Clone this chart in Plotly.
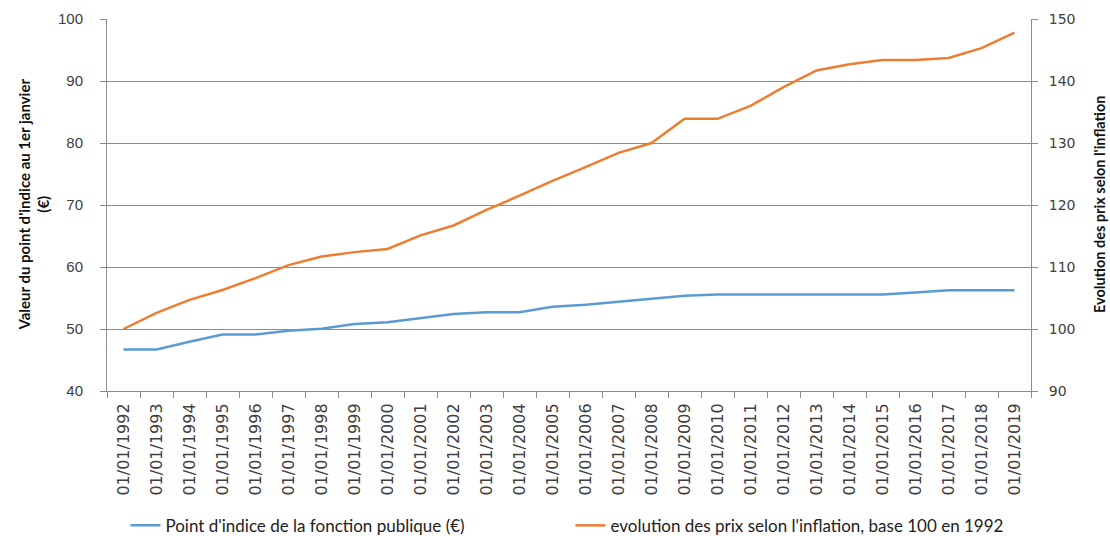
import plotly.graph_objects as go

# Années (1er janvier de chaque année)
years = list(range(1992, 2020))
dates = [f"01/01/{y}" for y in years]

# Valeur du point d'indice de la fonction publique au 1er janvier (€)
point_indice = [46.7, 46.7, 47.95, 49.1, 49.1, 49.7, 50.05, 50.8, 51.1, 51.7,
                52.4, 52.7, 52.7, 53.6, 53.9, 54.4, 54.9, 55.35, 55.56, 55.56,
                55.56, 55.56, 55.56, 55.56, 55.9, 56.23, 56.23, 56.23]

# Évolution des prix selon l'inflation, base 100 en 1992
prix_inflation = [100.0, 102.6, 104.7, 106.3, 108.2, 110.3, 111.7, 112.4, 112.9, 115.1,
                  116.7, 119.2, 121.5, 123.9, 126.1, 128.4, 130.0, 133.9, 133.9, 136.0,
                  139.0, 141.7, 142.7, 143.4, 143.4, 143.7, 145.3, 147.8]

left_ticks = [40, 50, 60, 70, 80, 90, 100]
right_ticks = [90, 100, 110, 120, 130, 140, 150]

BLUE = "#5B9BD5"
ORANGE = "#ED7D31"
GRID = "#8c8c8c"
TXT = "#404040"

fig = go.Figure()
fig.add_trace(go.Scatter(
    x=dates, y=point_indice, mode="lines", yaxis="y",
    name="Point d'indice de la fonction publique (€)",
    line=dict(color=BLUE, width=2.5),
))
fig.add_trace(go.Scatter(
    x=dates, y=prix_inflation, mode="lines", yaxis="y2",
    name="evolution des prix selon l'inflation, base 100 en 1992",
    line=dict(color=ORANGE, width=2.5),
))

fig.update_layout(
    width=1110, height=536,
    margin=dict(l=107, r=79, t=19, b=145),
    paper_bgcolor="white", plot_bgcolor="white",
    showlegend=True,
    legend=dict(
        orientation="h",
        xref="container", x=0.113, xanchor="left",
        yref="container", y=0.019, yanchor="middle",
        font=dict(family="Lato, 'Liberation Sans', sans-serif", size=17, color="#222"),
        entrywidth=400, entrywidthmode="pixels",
        bgcolor="rgba(0,0,0,0)",
    ),
    xaxis=dict(
        type="category", tickangle=-90, automargin=False,
        tickfont=dict(family="'DejaVu Sans', Verdana, sans-serif", size=16, color=TXT),
        showgrid=False, showline=True, linecolor=GRID, linewidth=1,
        ticks="outside", ticklen=6, tickcolor=GRID, tickson="boundaries",
        ticklabelstandoff=5,
        range=[-0.5, len(dates) - 0.5],
    ),
    yaxis=dict(
        range=[40, 100], tickvals=left_ticks, automargin=False,
        tickfont=dict(family="'Liberation Sans Narrow', 'Liberation Sans', sans-serif", size=15, color=TXT),
        showgrid=True, gridcolor=GRID, gridwidth=1,
        showline=True, linecolor=GRID, linewidth=1,
        ticks="outside", ticklen=6, tickcolor=GRID,
        ticklabelstandoff=14, zeroline=False,
    ),
    yaxis2=dict(
        range=[90, 150], tickvals=right_ticks, overlaying="y", side="right",
        automargin=False,
        tickfont=dict(family="'DejaVu Sans', Verdana, sans-serif", size=14, color=TXT),
        showgrid=False, showline=True, linecolor=GRID, linewidth=1,
        ticks="outside", ticklen=6, tickcolor=GRID,
        ticklabelstandoff=8, zeroline=False,
    ),
    annotations=[
        dict(
            text="Valeur du point d'indice au 1er janvier<br>(€)",
            xref="paper", yref="paper", x=-0.0795, y=0.5,
            xanchor="center", yanchor="middle", textangle=-90, showarrow=False,
            font=dict(family="Lato, 'Liberation Sans', sans-serif", size=15, color="#111", weight="bold"),
        ),
        dict(
            text="Evolution des prix selon l'inflation",
            xref="paper", yref="paper", x=1.0736, y=0.5,
            xanchor="center", yanchor="middle", textangle=-90, showarrow=False,
            font=dict(family="Lato, 'Liberation Sans', sans-serif", size=14.5, color="#111", weight="bold"),
        ),
    ],
)

fig.write_html("out.html")
